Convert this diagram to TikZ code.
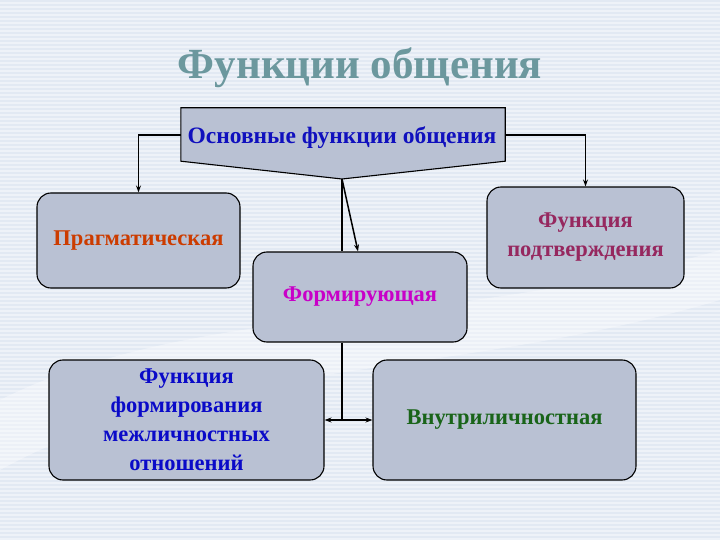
\documentclass[tikz,border=0pt]{standalone}
\usepackage{fontspec}
\setmainfont{Liberation Serif}
\usetikzlibrary{arrows.meta}
\definecolor{bgc}{RGB}{238,242,248}
\definecolor{stripe}{RGB}{226,233,243}
\definecolor{boxfill}{RGB}{185,193,211}
\definecolor{titlec}{RGB}{108,152,158}
\definecolor{mainc}{RGB}{16,16,190}
\definecolor{pragc}{RGB}{204,60,0}
\definecolor{podc}{RGB}{150,40,95}
\definecolor{formc}{RGB}{200,0,200}
\definecolor{mezc}{RGB}{10,10,200}
\definecolor{vnc}{RGB}{25,100,25}
\begin{document}
\begin{tikzpicture}[x=1pt,y=-1pt,
  fbox/.style={draw=black,line width=1.1pt,fill=boxfill,rounded corners=14pt,
    align=center,inner sep=0pt,font=\fontsize{22.5}{29}\selectfont\bfseries},
  conn/.style={draw=black,line width=1.5pt},
  arr/.style={conn,-{Stealth[length=7pt,width=5pt]}},
  darr/.style={conn,{Stealth[length=7pt,width=5pt]}-{Stealth[length=7pt,width=5pt]}}]
\useasboundingbox (0,0) rectangle (720,540);
\fill[bgc] (0,0) rectangle (720,540);
\foreach \yy in {1,5,...,540} \draw[stripe,line width=1.6pt] (0,\yy) -- (720,\yy);
\fill[white,opacity=0.35] (0,400) .. controls (200,300) and (450,330) .. (720,250) -- (720,300) .. controls (450,380) and (200,360) .. (0,470) -- cycle;

\node[text=titlec,font=\fontsize{43}{45}\selectfont\bfseries] (title) at (360,68) {Функции общения};

% main callout
\node[minimum width=324pt,minimum height=53pt,inner sep=0pt] (main) at (343,134.5) {};
\coordinate (tip) at (342,179);
\draw[fill=boxfill,line width=1.1pt] (main.north west) -- (main.north east) -- (main.south east) -- (tip) -- (main.south west) -- cycle;
\node[text=mainc,font=\fontsize{23.5}{26}\selectfont\bfseries] (mainlbl) at (342,138) {Основные функции общения};

\node[fbox,text=pragc,minimum width=203pt,minimum height=95pt] (prag) at (138.5,240.5) {Прагматическая};
\node[fbox,text=podc,minimum width=197pt,minimum height=101pt] (podtv) at (585.5,237.5) {Функция\\подтверждения};
\node[fbox,text=formc,minimum width=214pt,minimum height=90pt] (formir) at (360,297) {Формирующая};
\node[fbox,text=mezc,minimum width=275pt,minimum height=120pt] (mezhl) at (186.5,420) {Функция\\формирования\\межличностных\\отношений};
\node[fbox,text=vnc,minimum width=263pt,minimum height=120pt] (vnutr) at (504.5,420) {Внутриличностная};

% connectors
\draw[arr] (main.west |- 0,135) -| (prag.north);
\draw[arr] (main.east |- 0,135) -| (podtv.north);
\draw[conn] (tip) -- (tip |- formir.north);
\draw[arr] (tip) -- ([xshift=-2pt]formir.north);
\coordinate (junc) at (tip |- mezhl.east);
\draw[conn] (tip |- formir.south) -- (junc);
\draw[darr] (mezhl.east) -- (vnutr.west);
\end{tikzpicture}
\end{document}
